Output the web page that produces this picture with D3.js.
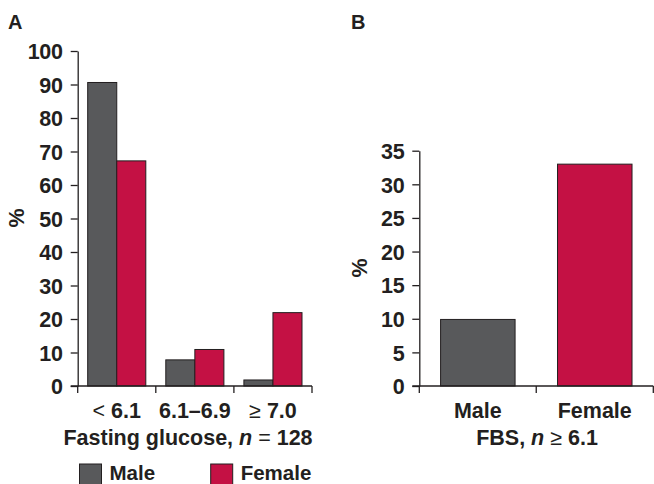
<!DOCTYPE html>
<html>
<head>
<meta charset="utf-8">
<script src="https://cdn.jsdelivr.net/npm/d3@7"></script>
<style>
  body { margin: 0; background: #fff; }
  svg text { font-family: "Liberation Sans", Arial, sans-serif; font-weight: bold; fill: #231f20; }
</style>
</head>
<body>
<svg id="chart" width="654" height="484"></svg>
<script>
// panel A: fasting glucose groups
const glucoseGroups = ['< 6.1', '6.1–6.9', '≥ 7.0'];
const sexes = ['Male', 'Female'];
const maleValues = [90.6, 7.8, 1.8];
const femaleValues = [67.2, 10.9, 21.9];
const ticksA = [0, 10, 20, 30, 40, 50, 60, 70, 80, 90, 100];

// panel B: FBS >= 6.1
const fbsValues = [9.9, 33.0];
const ticksB = [0, 5, 10, 15, 20, 25, 30, 35];

const colours = { Male: '#58595b', Female: '#c41144' };
const ink = '#231f20';
const fs = 21.5;

const svg = d3.select('#chart');

function drawAxes(g, x, y, ticks, x0, x1) {
  // y axis line + ticks to the left
  const ya = g.append('g').attr('transform', 'translate(' + x0 + ',0)')
    .call(d3.axisLeft(y).tickValues(ticks).tickSize(7).tickSizeOuter(0).tickPadding(8));
  ya.select('.domain').attr('stroke', ink).attr('stroke-width', 1.3);
  ya.selectAll('.tick line').attr('stroke', ink).attr('stroke-width', 1.3);
  ya.selectAll('.tick text').attr('font-size', fs).attr('fill', ink).attr('dy', '0.36em')
    .attr('letter-spacing', -0.3);

  // x axis: a line with ticks at band edges
  const base = y(0);
  g.append('line').attr('x1', x0 - 7).attr('x2', x1).attr('y1', base).attr('y2', base)
    .attr('stroke', ink).attr('stroke-width', 1.3);
  const edges = x.domain().map(d => x(d) - x.step() * x.paddingOuter());
  edges.push(x1);
  g.selectAll('.edge').data(edges).enter().append('line')
    .attr('x1', d => d).attr('x2', d => d)
    .attr('y1', base).attr('y2', base + 7)
    .attr('stroke', ink).attr('stroke-width', 1.3);
}

// ---------- panel A ----------
const gA = svg.append('g');
const yA = d3.scaleLinear().domain([0, 100]).range([386, 51]);
const xA = d3.scaleBand().domain(glucoseGroups).range([77.7, 312])
  .paddingInner(0.256).paddingOuter(0.128);
const xSub = d3.scaleBand().domain(sexes).range([0, xA.bandwidth()]);

const rowsA = glucoseGroups.map((g, i) => ({ group: g, Male: maleValues[i], Female: femaleValues[i] }));

gA.selectAll('.grp').data(rowsA).enter().append('g')
  .attr('transform', d => 'translate(' + xA(d.group) + ',0)')
  .selectAll('rect').data(d => sexes.map(s => ({ sex: s, v: d[s] }))).enter().append('rect')
  .attr('x', d => xSub(d.sex)).attr('width', xSub.bandwidth())
  .attr('y', d => yA(d.v)).attr('height', d => yA(0) - yA(d.v))
  .attr('fill', d => colours[d.sex]).attr('stroke', ink).attr('stroke-width', 1);

drawAxes(gA, xA, yA, ticksA, 77.7, 312);

// category labels with lighter math signs
const catA = gA.selectAll('.cat').data(glucoseGroups).enter().append('text')
  .attr('x', d => xA(d) + xA.bandwidth() / 2).attr('y', 418)
  .attr('text-anchor', 'middle').attr('font-size', fs);
catA.each(function(d) {
  const t = d3.select(this);
  const m = d.match(/^([<≥] )(.*)$/);
  if (m) {
    t.append('tspan').attr('font-weight', 'normal').text(m[1]);
    t.append('tspan').text(m[2]);
  } else {
    t.text(d);
  }
});

const titleA = gA.append('text').attr('x', 188).attr('y', 445)
  .attr('text-anchor', 'middle').attr('font-size', fs);
titleA.append('tspan').text('Fasting glucose, ');
titleA.append('tspan').attr('font-style', 'italic').text('n');
titleA.append('tspan').attr('font-weight', 'normal').text(' = ');
titleA.append('tspan').text('128');

gA.append('text').attr('transform', 'translate(24,218) rotate(-90)')
  .attr('text-anchor', 'middle').attr('font-size', fs).text('%');

gA.append('text').attr('x', 8).attr('y', 29).attr('font-size', 20).text('A');

// legend (runs to the bottom edge, as in the source figure)
const legX = [79.5, 210.7];
const leg = svg.selectAll('.leg').data(sexes).enter().append('g')
  .attr('transform', (d, i) => 'translate(' + legX[i] + ',464)');
leg.append('rect').attr('width', 22).attr('height', 22)
  .attr('fill', d => colours[d]).attr('stroke', ink).attr('stroke-width', 1);
leg.append('text').attr('x', 30).attr('y', 16).attr('font-size', 20.5).text(d => d);

// ---------- panel B ----------
const gB = svg.append('g');
const yB = d3.scaleLinear().domain([0, 35]).range([386, 150.7]);
const xB = d3.scaleBand().domain(sexes).range([419.3, 653.3])
  .paddingInner(0.363).paddingOuter(0.182);

gB.selectAll('.bar').data(sexes.map((s, i) => ({ sex: s, v: fbsValues[i] }))).enter().append('rect')
  .attr('x', d => xB(d.sex)).attr('width', xB.bandwidth())
  .attr('y', d => yB(d.v)).attr('height', d => yB(0) - yB(d.v))
  .attr('fill', d => colours[d.sex]).attr('stroke', ink).attr('stroke-width', 1);

drawAxes(gB, xB, yB, ticksB, 419.3, 653.3);

gB.selectAll('.cat').data(sexes).enter().append('text')
  .attr('x', d => xB(d) + xB.bandwidth() / 2).attr('y', 418)
  .attr('text-anchor', 'middle').attr('font-size', fs).text(d => d);

const titleB = gB.append('text').attr('x', 537).attr('y', 445)
  .attr('text-anchor', 'middle').attr('font-size', fs);
titleB.append('tspan').text('FBS, ');
titleB.append('tspan').attr('font-style', 'italic').text('n');
titleB.append('tspan').attr('font-weight', 'normal').text(' ≥ ');
titleB.append('tspan').text('6.1');

gB.append('text').attr('transform', 'translate(367,268) rotate(-90)')
  .attr('text-anchor', 'middle').attr('font-size', fs).text('%');

gB.append('text').attr('x', 351).attr('y', 29).attr('font-size', 20).text('B');
</script>
</body>
</html>
